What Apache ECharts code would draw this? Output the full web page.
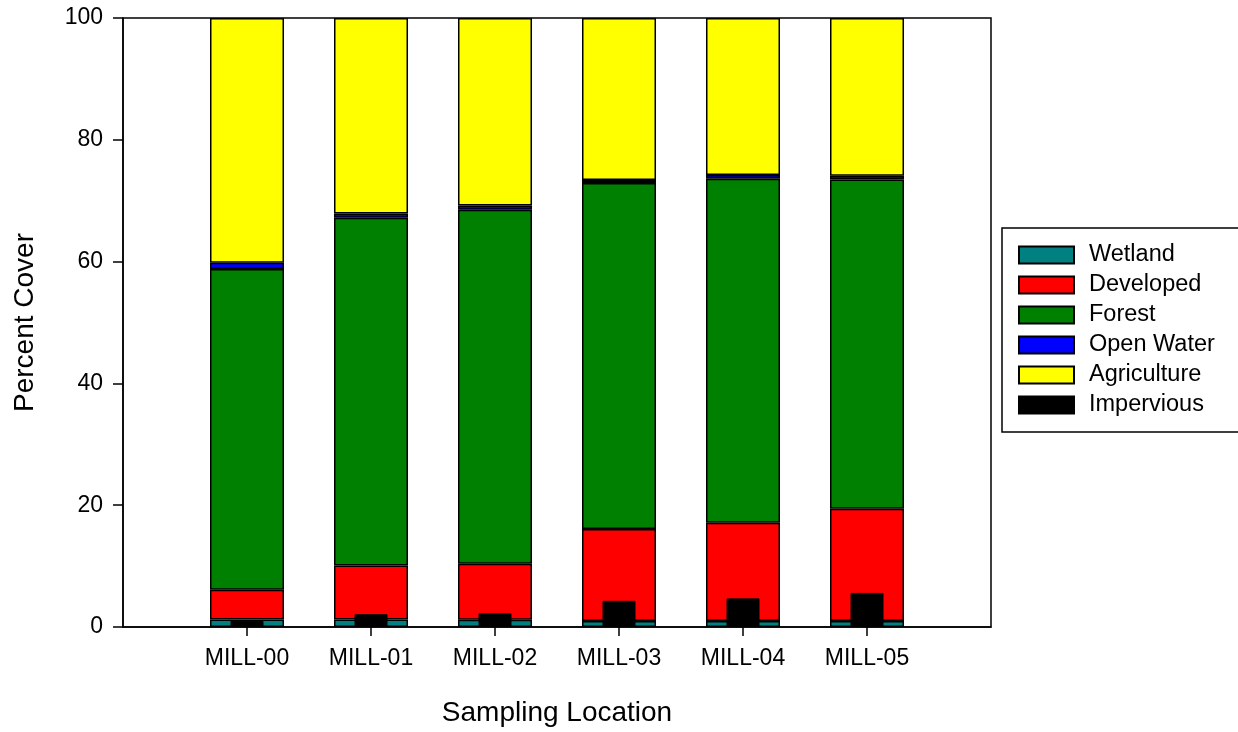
<!DOCTYPE html>
<html>
<head>
<meta charset="utf-8">
<script src="https://cdn.jsdelivr.net/npm/echarts@6/dist/echarts.min.js"></script>
<style>html,body{margin:0;padding:0;background:#fff;}#c{width:1238px;height:732px;}</style>
</head>
<body>
<div id="c"></div>
<script>
const categories = ['MILL-00', 'MILL-01', 'MILL-02', 'MILL-03', 'MILL-04', 'MILL-05'];
const wetland = [1.25, 1.25, 1.2, 1.0, 1.0, 1.0];
const developed = [4.85, 8.85, 9.2, 15.1, 16.1, 18.4];
const forest = [52.7, 57.1, 58.1, 56.8, 56.5, 54.1];
const openWater = [1.0, 0.7, 0.7, 0.5, 0.6, 0.6];
const agriculture = [40.2, 32.1, 30.8, 26.6, 25.8, 25.9];
const impervious = [1.0, 2.1, 2.25, 4.3, 4.7, 5.6];
const yTicks = [0, 20, 40, 60, 80, 100];

const font = 'Liberation Sans, Arial, sans-serif';
const axisCats = [''].concat(categories, ['']);
const pad = arr => [null].concat(arr, [null]);

const chart = echarts.init(document.getElementById('c'), null, {renderer: 'canvas'});
const stackSeries = (name, data, color) => ({
  name, type: 'bar', stack: 'cover', xAxisIndex: 0, data: pad(data), barWidth: 74,
  itemStyle: {color, borderColor: '#000', borderWidth: 1.5}, animation: false
});
chart.setOption({
  animation: false,
  backgroundColor: '#fff',
  grid: {left: 123, right: 247, top: 18, bottom: 105, show: true, borderColor: '#000', borderWidth: 1.5, backgroundColor: 'transparent'},
  legend: {
    orient: 'vertical', left: 1002, top: 228,
    padding: [15, 40, 15, 16],
    itemWidth: 55, itemHeight: 17, itemGap: 6,
    borderColor: '#000', borderWidth: 1.5,
    icon: 'rect',
    textStyle: {fontFamily: font, fontSize: 23.5, lineHeight: 24, color: '#000', padding: [0, 0, 0, 10]},
    data: ['Wetland', 'Developed', 'Forest', 'Open Water', 'Agriculture', 'Impervious']
  },
  xAxis: [{
    type: 'category', data: axisCats, boundaryGap: false,
    name: 'Sampling Location', nameLocation: 'middle', nameGap: 72,
    nameTextStyle: {fontFamily: font, fontSize: 28, color: '#000'},
    axisLine: {lineStyle: {color: '#000', width: 1.5}},
    axisTick: {show: true, length: 9, inside: false, lineStyle: {color: '#000', width: 1.5},
      interval: (i) => i > 0 && i < axisCats.length - 1},
    axisLabel: {interval: 0, margin: 20, fontFamily: font, fontSize: 23, color: '#000'},
    splitLine: {show: false}
  }, {
    type: 'category', data: axisCats, boundaryGap: false, show: false, position: 'bottom'
  }],
  yAxis: {
    type: 'value', min: yTicks[0], max: yTicks[yTicks.length - 1], interval: 20,
    name: 'Percent Cover', nameLocation: 'middle', nameGap: 84, nameRotate: 90,
    nameTextStyle: {fontFamily: font, fontSize: 28, color: '#000'},
    axisLine: {show: true, lineStyle: {color: '#000', width: 1.5}},
    axisTick: {show: true, length: 10, lineStyle: {color: '#000', width: 1.5}},
    axisLabel: {margin: 20, fontFamily: font, fontSize: 23, color: '#000'},
    splitLine: {show: false}
  },
  series: [
    stackSeries('Wetland', wetland, '#008080'),
    stackSeries('Developed', developed, '#ff0000'),
    stackSeries('Forest', forest, '#008000'),
    stackSeries('Open Water', openWater, '#0000ff'),
    stackSeries('Agriculture', agriculture, '#ffff00'),
    {
      name: 'Impervious', type: 'bar', xAxisIndex: 1, data: pad(impervious), barWidth: 33,
      itemStyle: {color: '#000', borderColor: '#000', borderWidth: 1}, z: 5
    }
  ]
});
</script>
</body>
</html>
